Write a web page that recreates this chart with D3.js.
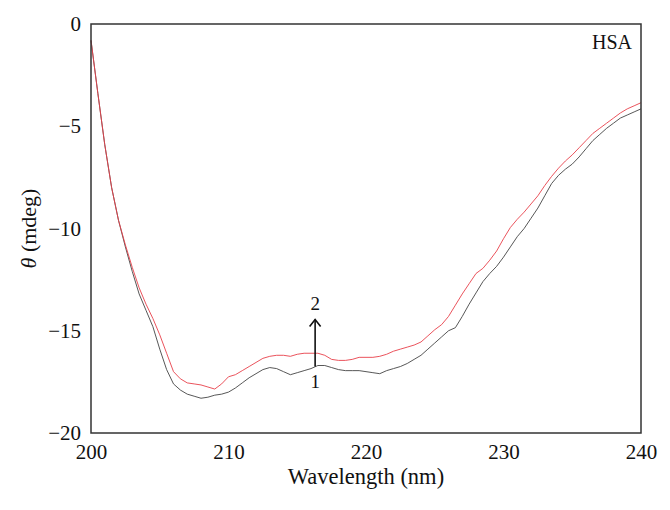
<!DOCTYPE html>
<html>
<head>
<meta charset="utf-8">
<script src="https://cdn.jsdelivr.net/npm/d3@7"></script>
<style>
  body { margin: 0; background: #fff; }
  text { font-family: "Liberation Serif", "DejaVu Serif", serif; fill: #111; }
</style>
</head>
<body>
<svg></svg>
<script>
const wavelength = [
  200.0, 200.5, 201.0, 201.5, 202.0, 202.5, 203.0, 203.5, 204.0, 204.5,
  205.0, 205.5, 206.0, 206.5, 207.0, 207.5, 208.0, 208.5, 209.0, 209.5,
  210.0, 210.5, 211.0, 211.5, 212.0, 212.5, 213.0, 213.5, 214.0, 214.5,
  215.0, 215.5, 216.0, 216.5, 217.0, 217.5, 218.0, 218.5, 219.0, 219.5,
  220.0, 220.5, 221.0, 221.5, 222.0, 222.5, 223.0, 223.5, 224.0, 224.5,
  225.0, 225.5, 226.0, 226.5, 227.0, 227.5, 228.0, 228.5, 229.0, 229.5,
  230.0, 230.5, 231.0, 231.5, 232.0, 232.5, 233.0, 233.5, 234.0, 234.5,
  235.0, 235.5, 236.0, 236.5, 237.0, 237.5, 238.0, 238.5, 239.0, 239.5,
  240.0
];

// curve 1 (black)
const theta1 = [
  -0.8, -3.4, -5.9, -8.0, -9.6, -10.9, -12.1, -13.2, -14.0, -14.8,
  -15.9, -16.9, -17.6, -17.9, -18.1, -18.2, -18.3, -18.25, -18.15, -18.1,
  -18.0, -17.8, -17.55, -17.3, -17.1, -16.9, -16.8, -16.85, -17.0, -17.15,
  -17.05, -16.95, -16.85, -16.7, -16.7, -16.8, -16.9, -16.95, -16.95, -16.95,
  -17.0, -17.05, -17.1, -16.95, -16.85, -16.75, -16.6, -16.4, -16.2, -15.9,
  -15.6, -15.3, -15.0, -14.85, -14.3, -13.7, -13.15, -12.6, -12.2, -11.85,
  -11.4, -10.9, -10.4, -10.0, -9.5, -9.0, -8.4, -7.8, -7.4, -7.1,
  -6.85, -6.5, -6.1, -5.7, -5.4, -5.1, -4.85, -4.6, -4.45, -4.3,
  -4.15
];

// curve 2 (red)
const theta2 = [
  -0.8, -3.4, -5.9, -8.0, -9.6, -10.8, -11.9, -12.9, -13.7, -14.4,
  -15.2, -16.1, -17.0, -17.35, -17.55, -17.6, -17.65, -17.75, -17.85, -17.6,
  -17.25, -17.15, -16.95, -16.75, -16.55, -16.35, -16.25, -16.2, -16.2, -16.25,
  -16.15, -16.1, -16.1, -16.1, -16.2, -16.4, -16.45, -16.45, -16.4, -16.3,
  -16.3, -16.3, -16.25, -16.15, -16.0, -15.9, -15.8, -15.7, -15.55, -15.25,
  -14.95, -14.7, -14.3, -13.75, -13.2, -12.7, -12.2, -11.95, -11.55, -11.1,
  -10.5, -9.95, -9.55, -9.2, -8.8, -8.4, -7.9, -7.45, -7.05, -6.7,
  -6.4, -6.05, -5.7, -5.35, -5.1, -4.85, -4.6, -4.35, -4.15, -4.0,
  -3.85
];

const xTicks = [200, 210, 220, 230, 240];
const yTicks = [0, -5, -10, -15, -20];

const width = 670, height = 510;
const margin = {top: 24, right: 29, bottom: 77, left: 91};

const svg = d3.select('svg')
  .attr('width', width)
  .attr('height', height);

const x = d3.scaleLinear().domain([200, 240]).range([margin.left, width - margin.right]);
const y = d3.scaleLinear().domain([-20, 0]).range([height - margin.bottom, margin.top]);

const lineGenerator = d3.line()
  .x(d => x(d[0]))
  .y(d => y(d[1]));

svg.append('path')
  .attr('d', lineGenerator(wavelength.map((w, i) => [w, theta1[i]])))
  .attr('fill', 'none')
  .attr('stroke', '#444')
  .attr('stroke-width', 0.9);

svg.append('path')
  .attr('d', lineGenerator(wavelength.map((w, i) => [w, theta2[i]])))
  .attr('fill', 'none')
  .attr('stroke', '#e8404a')
  .attr('stroke-width', 0.9);

// frame
svg.append('rect')
  .attr('x', x(200))
  .attr('y', y(0))
  .attr('width', x(240) - x(200))
  .attr('height', y(-20) - y(0))
  .attr('fill', 'none')
  .attr('stroke', '#333')
  .attr('stroke-width', 1.5);

// axes (labels only, no tick marks)
const xAxis = svg.append('g')
  .attr('transform', `translate(0,${y(-20)})`)
  .call(d3.axisBottom(x).tickValues(xTicks).tickSize(0).tickPadding(11));
const yAxis = svg.append('g')
  .attr('transform', `translate(${x(200)},0)`)
  .call(d3.axisLeft(y).tickValues(yTicks).tickSize(0).tickPadding(10));

[xAxis, yAxis].forEach(g => {
  g.select('.domain').remove();
  g.selectAll('text')
    .style('font-family', '"Liberation Serif", serif')
    .style('font-size', '21px')
    .attr('fill', '#111');
});

svg.append('text')
  .attr('x', (x(200) + x(240)) / 2)
  .attr('y', 484)
  .style('font-size', '22.5px')
  .style('text-anchor', 'middle')
  .text('Wavelength (nm)');

const yTitle = svg.append('text')
  .attr('transform', `translate(36,${(y(0) + y(-20)) / 2}) rotate(-90)`)
  .style('font-size', '22px')
  .style('text-anchor', 'middle');
yTitle.append('tspan').style('font-style', 'italic').text('θ');
yTitle.append('tspan').text(' (mdeg)');

svg.append('text')
  .attr('x', x(240) - 9)
  .attr('y', y(0) + 25)
  .style('font-size', '20px')
  .style('text-anchor', 'end')
  .text('HSA');

// arrow annotation 1 -> 2
const ax = x(216.3);
svg.append('line')
  .attr('x1', ax).attr('x2', ax)
  .attr('y1', y(-16.75)).attr('y2', y(-14.45))
  .attr('stroke', '#111')
  .attr('stroke-width', 1.6);
svg.append('path')
  .attr('d', d3.line()([[ax - 5.5, y(-14.45) + 7], [ax, y(-14.45)], [ax + 5.5, y(-14.45) + 7]]))
  .attr('fill', 'none')
  .attr('stroke', '#111')
  .attr('stroke-width', 1.6);

svg.append('text')
  .attr('x', ax)
  .attr('y', y(-13.98))
  .style('font-size', '19px')
  .style('text-anchor', 'middle')
  .text('2');
svg.append('text')
  .attr('x', ax)
  .attr('y', y(-17.8))
  .style('font-size', '19px')
  .style('text-anchor', 'middle')
  .text('1');
</script>
</body>
</html>
